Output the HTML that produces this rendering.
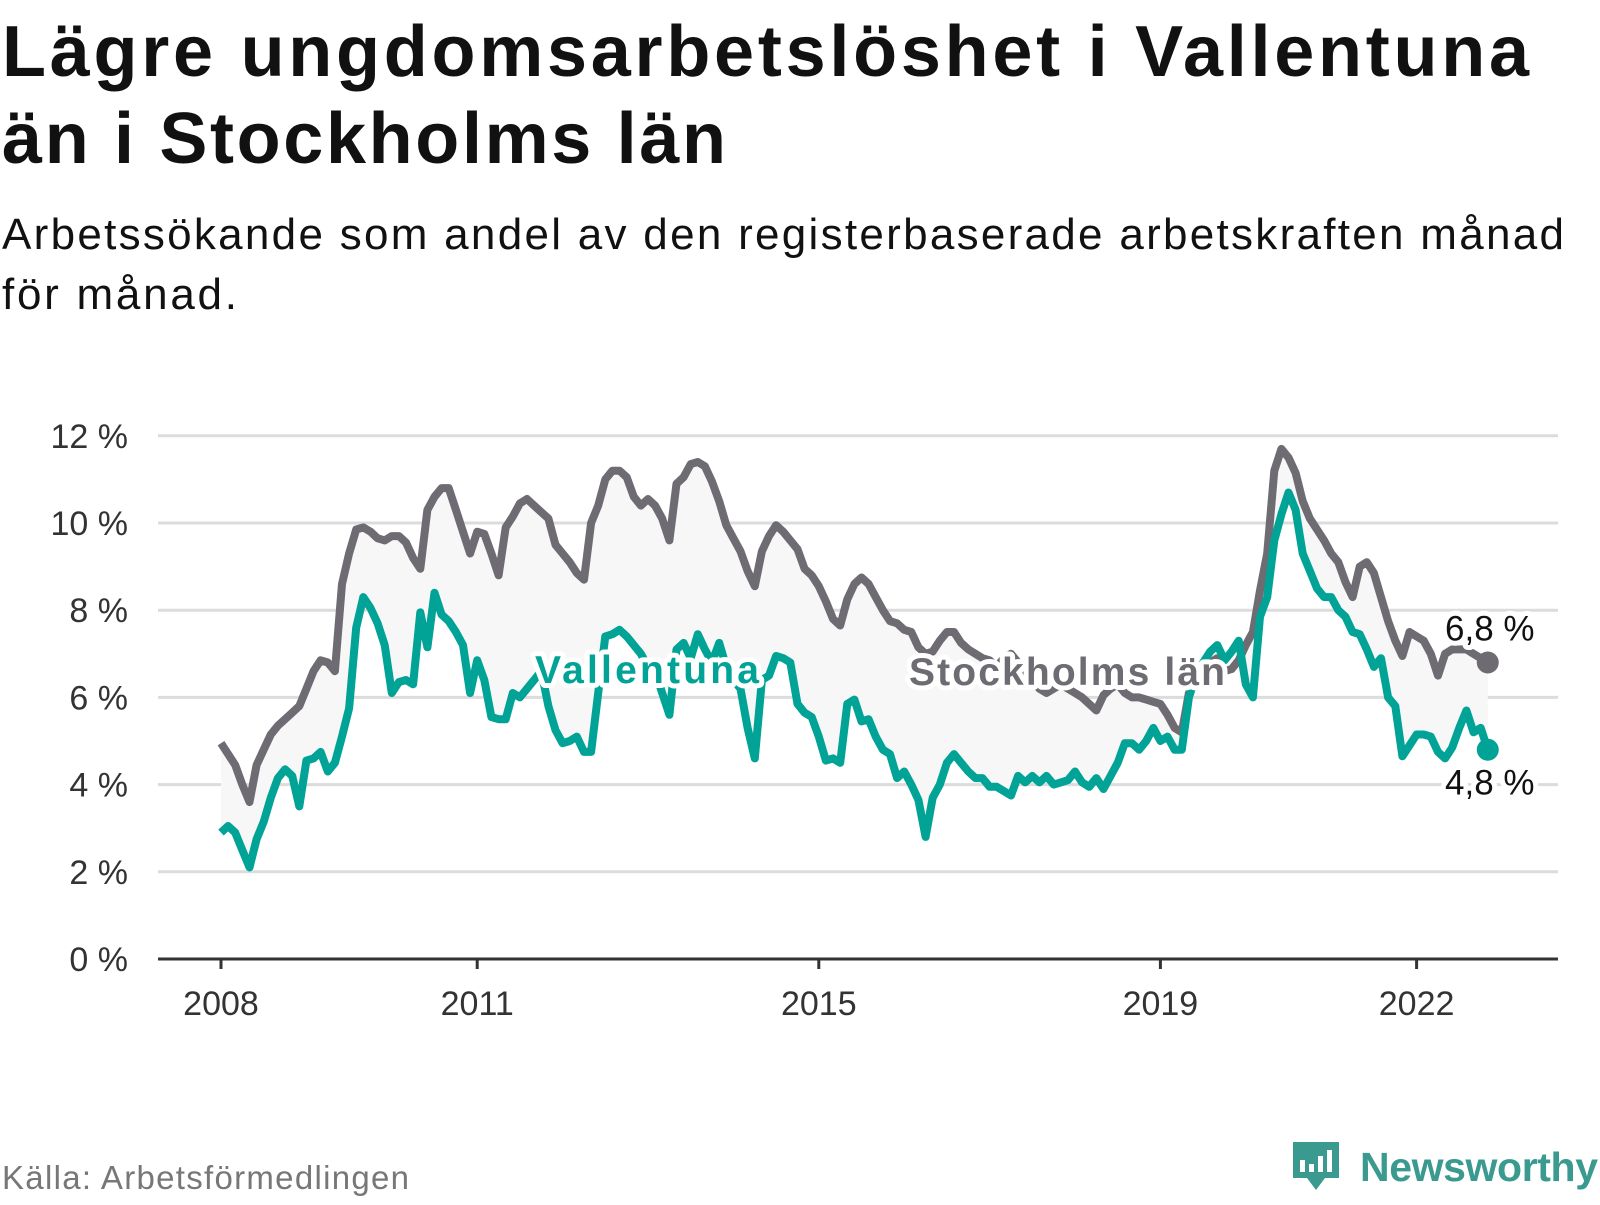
<!DOCTYPE html>
<html><head><meta charset="utf-8">
<style>
html,body{margin:0;padding:0;background:#fff;}
body{width:1600px;height:1200px;overflow:hidden;font-family:"Liberation Sans",sans-serif;}
</style></head>
<body>
<svg id="chart" width="1600" height="1200" viewBox="0 0 1600 1200" xmlns="http://www.w3.org/2000/svg">
<text x="2" y="76" font-size="72" font-weight="bold" fill="#111" textLength="1527" lengthAdjust="spacing">Lägre ungdomsarbetslöshet i Vallentuna</text>
<text x="2" y="163" font-size="72" font-weight="bold" fill="#111" textLength="724" lengthAdjust="spacing">än i Stockholms län</text>
<text x="2" y="249" font-size="44" fill="#111" textLength="1562" lengthAdjust="spacing">Arbetssökande som andel av den registerbaserade arbetskraften månad</text>
<text x="2" y="309" font-size="44" fill="#111" textLength="235" lengthAdjust="spacing">för månad.</text>
<g id="grid"></g>
<g id="yticks"></g>
<g id="xticks"></g>
<g id="series"></g>
<g id="labels"></g>
<text x="2" y="1189" font-size="33" fill="#777" textLength="407" lengthAdjust="spacing">Källa: Arbetsförmedlingen</text>
<g>
<path d="M1293 1142 h46 v36 h-14 l-9 12 l-9 -12 h-14 z" fill="#3a9a8f"/>
<rect x="1300" y="1160" width="5" height="12" fill="#fff"/>
<rect x="1309" y="1164" width="5" height="8" fill="#fff"/>
<rect x="1318" y="1156" width="5" height="16" fill="#fff"/>
<rect x="1327" y="1150" width="5" height="22" fill="#fff"/>
<text x="1360" y="1181" font-size="41" font-weight="bold" fill="#3a9a8f" textLength="238" lengthAdjust="spacing">Newsworthy</text>
</g>
</svg>
<script>
const yTicks = [0, 2, 4, 6, 8, 10, 12];
const xTickYears = [2008, 2011, 2015, 2019, 2022];
const startYear = 2008;
const stockholm = [4.95,4.7,4.45,4.0,3.6,4.45,4.8,5.15,5.35,5.5,5.65,5.8,6.2,6.6,6.85,6.8,6.6,8.6,9.3,9.85,9.9,9.8,9.65,9.6,9.7,9.7,9.55,9.2,8.95,10.3,10.6,10.8,10.8,10.3,9.8,9.3,9.8,9.75,9.3,8.8,9.9,10.15,10.45,10.55,10.4,10.25,10.1,9.5,9.3,9.1,8.85,8.7,10.0,10.4,11.0,11.2,11.2,11.05,10.6,10.4,10.55,
10.4,10.1,9.6,10.9,11.05,11.35,11.4,11.3,10.95,10.5,9.95,9.65,9.35,8.9,8.55,9.35,9.7,9.95,9.8,9.6,9.4,8.95,8.8,8.55,8.2,7.8,7.65,8.25,8.6,8.75,8.6,8.3,8.0,7.75,7.7,7.55,7.5,7.15,7.0,7.05,7.3,7.5,7.5,7.25,7.1,
7.0,6.9,6.85,6.7,6.9,7.0,6.8,6.6,6.4,6.2,6.1,6.2,6.3,6.2,6.1,6.0,5.85,5.7,6.05,6.2,6.3,6.1,6.0,6.0,5.95,5.9,5.85,5.6,5.3,5.2,6.1,6.4,6.6,6.8,6.9,6.6,6.65,6.85,7.2,7.5,8.45,9.3,11.2,11.7,11.5,11.15,10.5,10.1,9.85,9.6,9.3,9.1,8.65,8.3,9.0,9.1,8.85,8.3,7.75,7.3,6.95,7.5,7.4,7.3,7.0,6.5,7.0,7.1,7.1,7.1,7.0,6.9,6.8];
const vallentuna = [2.9,3.05,2.9,2.5,2.1,2.75,3.15,3.7,4.15,4.35,4.2,3.5,4.55,4.6,4.75,4.3,4.5,5.1,5.75,7.6,8.3,8.05,7.7,7.2,6.1,6.35,6.4,6.3,7.95,7.15,8.4,7.9,7.75,7.5,7.2,6.1,6.85,6.4,5.55,5.5,5.5,6.1,6.0,6.2,6.4,6.6,5.8,5.25,4.95,5.0,5.1,4.75,4.75,6.1,7.4,7.45,7.55,7.4,7.2,7.0,6.7,
6.6,6.1,5.6,7.1,7.25,6.9,7.45,7.1,6.8,7.25,6.7,6.4,6.2,5.3,4.6,6.4,6.5,6.95,6.9,6.8,5.85,5.65,5.55,5.1,4.55,4.6,4.5,5.85,5.95,5.45,5.5,5.1,4.8,4.7,4.15,4.3,4.0,3.65,2.8,3.7,4.0,4.5,4.7,4.5,4.3,4.15,4.15,3.95,3.95,3.85,3.75,4.2,4.05,4.2,4.05,4.2,4.0,4.05,4.1,4.3,4.05,3.95,
4.15,3.9,4.2,4.5,4.95,4.95,4.8,5.0,5.3,5.0,5.1,4.8,4.8,6.0,6.5,6.8,7.05,7.2,6.85,7.05,7.3,6.3,6.0,7.85,8.3,9.6,10.2,10.7,10.3,9.3,8.9,8.5,8.3,8.3,8.0,7.85,7.5,7.45,7.1,6.7,6.9,6.0,5.8,4.65,4.9,5.15,5.15,5.1,4.75,4.6,4.85,5.3,5.7,5.2,5.3,4.8];
const lastStockholmLabel = "6,8 %";
const lastVallentunaLabel = "4,8 %";

const NS = "http://www.w3.org/2000/svg";
const X0 = 221, PX_PER_YEAR = 85.4, Y0 = 959, PX_PER_UNIT = 43.6;
function xMonth(i){ return X0 + (i/12) * PX_PER_YEAR; }
function xYear(y){ return X0 + (y - startYear) * PX_PER_YEAR; }
function yVal(v){ return Y0 - v * PX_PER_UNIT; }
function mk(tag, attrs, parent){
  const el = document.createElementNS(NS, tag);
  for (const k in attrs) el.setAttribute(k, attrs[k]);
  parent.appendChild(el);
  return el;
}
const grid = document.getElementById('grid');
const yt = document.getElementById('yticks');
yTicks.forEach(t => {
  if (t > 0) {
    const l = mk('line', {x1:158, x2:1558, y1:yVal(t), y2:yVal(t), stroke:'#dcdcdc', 'stroke-width':3}, grid);
    
    
  }
  const tx = mk('text', {x:128, y:yVal(t)+12, 'text-anchor':'end', 'font-size':34, fill:'#333'}, yt);
  tx.textContent = t + ' %';
  
  
});
const xt = document.getElementById('xticks');
const axis = mk('line', {x1:158, x2:1558, y1:Y0, y2:Y0, stroke:'#333', 'stroke-width':3}, xt);


xTickYears.forEach(yr => {
  const x = xYear(yr);
  const tk = mk('line', {x1:x, x2:x, y1:Y0, y2:Y0+10, stroke:'#333', 'stroke-width':3}, xt);
  
  
  const tx = mk('text', {x:x, y:1015, 'text-anchor':'middle', 'font-size':34, fill:'#333'}, xt);
  tx.textContent = yr;
  
  
});
const ser = document.getElementById('series');
function pts(arr){ return arr.map((v,i)=>xMonth(i).toFixed(1)+','+yVal(v).toFixed(1)); }
const n = Math.min(stockholm.length, vallentuna.length);
const areaPts = pts(stockholm.slice(0,n)).concat(pts(vallentuna.slice(0,n)).reverse());
const area = mk('polygon', {points: areaPts.join(' '), fill:'#f7f7f7'}, ser);


const gLine = mk('polyline', {points: pts(stockholm).join(' '), fill:'none', stroke:'#6e6c72', 'stroke-width':8, 'stroke-linejoin':'round'}, ser);


const tLine = mk('polyline', {points: pts(vallentuna).join(' '), fill:'none', stroke:'#00a396', 'stroke-width':8, 'stroke-linejoin':'round'}, ser);


const gi = stockholm.length-1, ti = vallentuna.length-1;
const gDot = mk('circle', {cx:xMonth(gi), cy:yVal(stockholm[gi]), r:11, fill:'#6e6c72'}, ser);


const tDot = mk('circle', {cx:xMonth(ti), cy:yVal(vallentuna[ti]), r:11, fill:'#00a396'}, ser);


const lab = document.getElementById('labels');
function halo(txt, x, y, size, weight, color, name, anchor, len){
  const extra = len ? {textLength: len, lengthAdjust: 'spacing'} : {};
  const a = mk('text', Object.assign({x:x, y:y, 'font-size':size, 'font-weight':weight, fill:'#fff', stroke:'#fff', 'stroke-width':10, 'stroke-linejoin':'round', 'text-anchor':anchor}, extra), lab);
  a.textContent = txt;
  
  
  const b = mk('text', Object.assign({x:x, y:y, 'font-size':size, 'font-weight':weight, fill:color, 'text-anchor':anchor}, extra), lab);
  b.textContent = txt;
  
  
}
halo('Vallentuna', 535, 683, 39, 'bold', '#00a396', 'vallentuna-label', 'start', 224);
halo('Stockholms län', 909, 685, 39, 'bold', '#6e6c72', 'stockholms-lan-label', 'start', 316);
halo(lastStockholmLabel, xMonth(gi)+2, yVal(stockholm[gi])-22, 35, 'normal', '#111', 'stockholms-lan-value', 'middle');
halo(lastVallentunaLabel, xMonth(ti)+2, yVal(vallentuna[ti])+45, 35, 'normal', '#111', 'vallentuna-value', 'middle');
</script>
</body></html>
